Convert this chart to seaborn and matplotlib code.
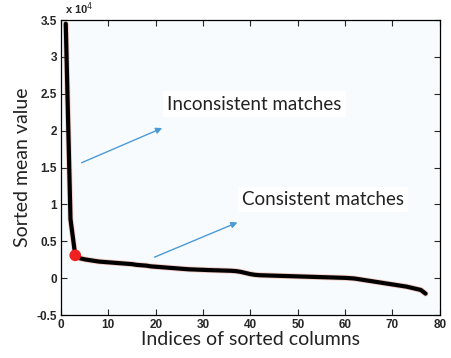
import numpy as np
import pandas as pd
import seaborn as sns
import matplotlib.pyplot as plt
from matplotlib.ticker import FormatStrFormatter

# sorted mean values (in units of 1e4), one per column index
indices = list(range(1, 78))
sorted_mean = [
    3.45, 0.80, 0.31, 0.27, 0.255, 0.245, 0.235, 0.225, 0.22, 0.215,
    0.21, 0.205, 0.20, 0.195, 0.19, 0.18, 0.175, 0.17, 0.16, 0.155,
    0.15, 0.145, 0.14, 0.135, 0.13, 0.125, 0.12, 0.118, 0.115, 0.113,
    0.11, 0.108, 0.106, 0.104, 0.102, 0.10, 0.095, 0.085, 0.07, 0.055,
    0.045, 0.04, 0.038, 0.036, 0.034, 0.032, 0.030, 0.028, 0.026, 0.024,
    0.022, 0.02, 0.018, 0.016, 0.014, 0.012, 0.01, 0.008, 0.006, 0.004,
    0.0, -0.005, -0.015, -0.025, -0.035, -0.045, -0.055, -0.065, -0.075, -0.085,
    -0.095, -0.105, -0.115, -0.13, -0.145, -0.16, -0.21,
]
knee_index = 3  # red marker, split between inconsistent / consistent

df = pd.DataFrame({"idx": indices, "val": sorted_mean})
knee = df[df["idx"] == knee_index]

sns.set_style("ticks")
plt.rcParams["font.family"] = ["Liberation Sans", "DejaVu Sans"]

fig = plt.figure(figsize=(4.52, 3.58), dpi=100)
ax = fig.add_axes([0.135, 0.12, 0.838, 0.824])
ax.set_facecolor("#f8fbfe")

# faint red trace under the thick black line
sns.lineplot(data=df, x="idx", y="val", ax=ax, color="#e8735a", lw=4.2, alpha=0.35)
sns.lineplot(data=df, x="idx", y="val", ax=ax, color="black", lw=3)
sns.scatterplot(data=knee, x="idx", y="val", ax=ax, color="#f02020", s=70,
                edgecolor="none", zorder=5)

ax.set_xlim(0, 80)
ax.set_ylim(-0.5, 3.5)
ax.set_xticks(np.arange(0, 81, 10))
ax.set_yticks(np.arange(-0.5, 3.51, 0.5))
ax.yaxis.set_major_formatter(FormatStrFormatter("%g"))
ax.tick_params(direction="in", length=4, width=0.8, top=True, right=True,
               labelsize=8.5, pad=3)
for lab in ax.get_xticklabels() + ax.get_yticklabels():
    lab.set_fontweight("bold")
for s in ax.spines.values():
    s.set_color("black")
    s.set_linewidth(0.9)

ax.set_xlabel("Indices of sorted columns", fontsize=14, family="Lato", color="#222222", labelpad=0)
ax.set_ylabel("Sorted mean value", fontsize=14, family="Lato", color="#222222", labelpad=4)

ax.text(0.01, 1.01, r"x 10$^4$", transform=ax.transAxes, fontsize=8,
        fontweight="bold", ha="left", va="bottom")

arrow = dict(arrowstyle="-|>", color="#4a9ad6", lw=1.0, mutation_scale=9)
ax.annotate("", xy=(21.9, 2.05), xytext=(3.8, 1.55), arrowprops=arrow)
ax.annotate("", xy=(37.8, 0.77), xytext=(19.2, 0.27), arrowprops=arrow)

ax.text(22.4, 2.36, "Inconsistent matches", fontsize=13.5, family="Lato",
        color="#222222", va="center", ha="left",
        bbox=dict(facecolor="white", edgecolor="none", pad=3))
ax.text(38.2, 1.07, "Consistent matches", fontsize=13.5, family="Lato",
        color="#222222", va="center", ha="left",
        bbox=dict(facecolor="white", edgecolor="none", pad=3))

fig.savefig("out.png", dpi=100)
